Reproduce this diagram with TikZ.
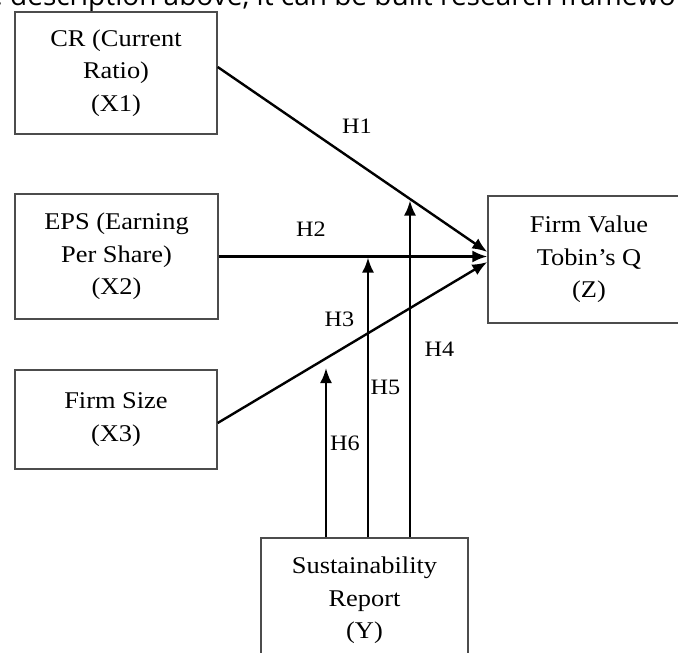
\documentclass[tikz,border=0pt]{standalone}
\usepackage{fontspec}
\setmainfont{Liberation Serif}
\newfontfamily\boxserif[FakeStretch=1.1]{Liberation Serif}
\newfontfamily\capsans{Open Sans}
\usetikzlibrary{arrows.meta,positioning,calc}

\begin{document}
\begin{tikzpicture}[
    x=1pt, y=-1pt,
    >={Latex[length=15pt,width=12pt]},
    box/.style={draw=black!70, line width=1.4pt, rectangle, align=center, inner sep=0pt, font=\boxserif\fontsize{24}{32.5}\selectfont},
    path/.style={->, line width=2.4pt},
    hyp/.style={inner sep=0pt, font=\boxserif\fontsize{22}{28}\selectfont}
]
    \useasboundingbox (0,0) rectangle (678,653);
    \clip (0,0) rectangle (678,653);

    % Text line cut at the top
    \node[anchor=base west, inner sep=0pt, font=\capsans\fontsize{28}{32}\selectfont] (cap) at (-13,5.5) {e description above, it can be built research framework};

    % Boxes
    \node[box, minimum width=202pt, minimum height=122pt] (x1) at (116,73) {CR (Current\\Ratio)\\(X1)};
    \node[box, minimum width=203pt, minimum height=125pt] (x2) at (116.5,256.5) {EPS (Earning\\Per Share)\\(X2)};
    \node[box, minimum width=202pt, minimum height=99pt] (x3) at (116,419.5) {Firm Size\\(X3)};
    \node[box, minimum width=202pt, minimum height=127pt] (z) at (589,259.5) {Firm Value\\Tobin’s Q\\(Z)};
    \node[box, minimum width=207pt, minimum height=125pt] (y) at (364.5,600.5) {Sustainability\\Report\\(Y)};

    % Direct paths
    \draw[path] ([yshift=6pt]x1.east) -- ([yshift=7.5pt]z.west);
    \draw[path] (x2.east) -- (z.west |- x2.east);
    \draw[path] ([yshift=-3.5pt]x3.east) -- ([yshift=-2.5pt]z.west);

    % Moderating paths
    \coordinate (m6) at (326,368);
    \coordinate (m5) at (368,257.5);
    \coordinate (m4) at (410,200.5);
    \draw[path] (y.north -| m6) -- (m6);
    \draw[path] (y.north -| m5) -- (m5);
    \draw[path] (y.north -| m4) -- (m4);

    % Labels
    \node[hyp] (h1) at (357,126) {H1};
    \node[hyp] (h2) at (311,229.5) {H2};
    \node[hyp] (h3) at (339.5,319) {H3};
    \node[hyp] (h4) at (439.5,349) {H4};
    \node[hyp] (h5) at (385.5,387) {H5};
    \node[hyp] (h6) at (345,443.5) {H6};
\end{tikzpicture}
\end{document}
